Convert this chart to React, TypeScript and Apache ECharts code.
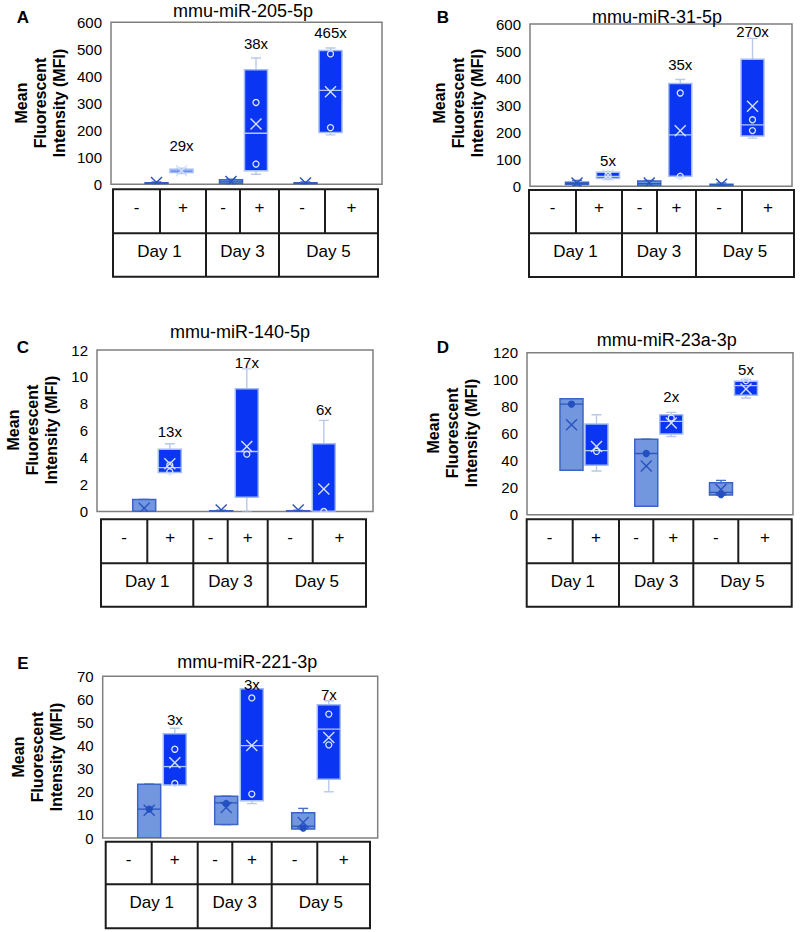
import React, { useEffect, useRef } from "react";
import * as echarts from "echarts";

// ---- data -------------------------------------------------------------
const days = ["Day 1", "Day 3", "Day 5"];
const treatments = ["-", "+"];
const panelLetters = ["A", "B", "C", "D", "E"];
const panelTitles = ["mmu-miR-205-5p", "mmu-miR-31-5p", "mmu-miR-140-5p", "mmu-miR-23a-3p", "mmu-miR-221-3p"];
const yMax = [600, 600, 12, 120, 70];
const yStep = [100, 100, 2, 20, 10];

// box statistics per box: [min, q1, median, q3, max, mean]
// box order: Day1 -, Day1 +, Day3 -, Day3 +, Day5 -, Day5 +
const mir205Stats = [
  [1, 2, 4, 6, 9, 7],
  [40, 44, 50, 56, 60, 50],
  [0, 2, 9, 17, 19, 10],
  [37, 50, 189, 424, 468, 223],
  [0, 1, 3, 6, 9, 5],
  [183, 192, 348, 496, 505, 343],
];
const mir205Points = [[], [], [], [303, 75], [], [483, 210]];
const mir205Fold = ["29x", "38x", "465x"];
const mir205FoldY = [142, 521, 562];

const mir31Stats = [
  [3, 7, 10, 15, 22, 12],
  [25, 30, 37, 52, 55, 42],
  [2, 4, 10, 20, 22, 12],
  [35, 37, 190, 380, 395, 205],
  [0, 2, 5, 8, 12, 8],
  [178, 186, 227, 470, 547, 296],
];
const mir31Points = [[], [41], [], [345, 37], [], [246, 206]];
const mir31Fold = ["5x", "35x", "270x"];
const mir31FoldY = [97, 451, 574];

const mir140Stats = [
  [0, 0, 0, 0.9, 0.9, 0.25],
  [2.89, 2.89, 3.26, 4.63, 5.03, 3.55],
  [0, 0, 0, 0.05, 0.1, 0.12],
  [0, 1.05, 4.46, 9.12, 10.6, 4.83],
  [0, 0, 0, 0.05, 0.1, 0.12],
  [0, 0, 0, 5.03, 6.77, 1.67],
];
const mir140Points = [[], [3.45, 2.95], [], [4.26], [], [0]];
const mir140Fold = ["13x", "17x", "6x"];
const mir140FoldY = [5.95, 11.06, 7.6];

const mir23aStats = [
  [33, 33, 82, 86, 86, 66.7],
  [32.5, 36.7, 47.6, 67.2, 74.1, 50.6],
  [6.4, 6.4, 45.4, 56, 56, 36.2],
  [58, 59.8, 69.2, 74.1, 75.9, 68],
  [14.6, 14.6, 16.6, 23.8, 25.5, 18.8],
  [86.5, 88.5, 95.7, 98.9, 100.2, 93.2],
];
const mir23aPoints = [[82], [47], [45.4], [71.7], [15], [99.4]];
const mir23aFold = ["", "2x", "5x"];
const mir23aFoldY = [0, 87.3, 108];

const mir221Stats = [
  [0, 0, 12.5, 23.3, 23.3, 12],
  [22.9, 22.9, 30.9, 45.1, 47.5, 32.6],
  [5.8, 5.8, 15.2, 18.1, 18.1, 13.2],
  [14.9, 16.1, 40, 64.6, 64.6, 40],
  [3.9, 3.9, 5.1, 10.9, 12.8, 6.7],
  [20, 25.4, 47.1, 57.7, 59.4, 43.5],
];
const mir221Points = [[12.5], [38.4, 23.6], [14.9], [60.6, 19], [4.3], [53.6, 40.3]];
const mir221Fold = ["3x", "3x", "7x"];
const mir221FoldY = [51.2, 66.4, 62];

const allStats = [mir205Stats, mir31Stats, mir140Stats, mir23aStats, mir221Stats];
const allPoints = [mir205Points, mir31Points, mir140Points, mir23aPoints, mir221Points];
const allFold = [mir205Fold, mir31Fold, mir140Fold, mir23aFold, mir221Fold];
const allFoldY = [mir205FoldY, mir31FoldY, mir140FoldY, mir23aFoldY, mir221FoldY];

// ---- layout -----------------------------------------------------------
const layout = [
  {
    grid: { left: 111, top: 22.3, width: 271, height: 162 },
    day1X: 169, step: 74.5, off: 12.5,
    letter: [23, 17], title: [243, 10.5], yTitle: [40, 103],
    table: { xs: [113, 160, 206, 240, 279, 325, 378], ys: [189.3, 233.3, 276.7] },
  },
  {
    grid: { left: 530, top: 24, width: 262, height: 162.3 },
    day1X: 592.5, step: 72.25, off: 15.5,
    letter: [443, 17], title: [657, 16.5], yTitle: [458, 103],
    table: { xs: [529, 576, 622, 657, 696, 742, 794], ys: [190, 233.3, 277] },
  },
  {
    grid: { left: 97, top: 350, width: 276, height: 161.5 },
    day1X: 157, step: 77, off: 12.8,
    letter: [23, 347], title: [240, 331.7], yTitle: [32, 430],
    table: { xs: [101, 147.3, 193.3, 227.7, 267.7, 312.7, 366], ys: [519.3, 563.3, 606.7] },
  },
  {
    grid: { left: 527, top: 352.8, width: 266, height: 162 },
    day1X: 584, step: 74.75, off: 12.5,
    letter: [443, 347], title: [666.7, 340], yTitle: [452, 433],
    table: { xs: [526.7, 572.7, 619, 653.3, 693.3, 738.3, 791.7], ys: [519.3, 563.3, 606.7] },
  },
  {
    grid: { left: 102.7, top: 676.2, width: 275, height: 161.8 },
    day1X: 162, step: 77, off: 12.8,
    letter: [23, 663], title: [247.3, 661.7], yTitle: [37, 757],
    table: { xs: [105.7, 151.7, 197.7, 232.3, 271.7, 317.3, 370], ys: [841.7, 884.3, 928.3] },
  },
];

const FONT = "'Liberation Sans', Arial, Helvetica, sans-serif";
const BOX_W = 23;

// styles for the untreated (-) and treated (+) boxes
const STYLE = [
  { fill: "#7397de", stroke: "#3a64c6", whisker: "#4b70c9", median: "#2c57c0", mean: "#2953bf", pFill: "#2450c0", pStroke: "#2450c0" },
  { fill: "#0a35f2", stroke: "#a3bcf2", whisker: "#b9c9ea", median: "#b3c8f5", mean: "#d4e0fa", pFill: "none", pStroke: "#dce6fb" },
];

function seg(x1: number, y1: number, x2: number, y2: number, stroke: string, lineWidth = 1.4) {
  return { type: "line", shape: { x1, y1, x2, y2 }, style: { stroke, lineWidth } };
}

function buildOption() {
  const grids: any[] = [];
  const xAxes: any[] = [];
  const yAxes: any[] = [];
  const series: any[] = [];
  const graphics: any[] = [];

  layout.forEach((L, p) => {
    const xMin = 1 - (L.day1X - L.grid.left) / L.step;
    const xMax = xMin + L.grid.width / L.step;
    grids.push({
      ...L.grid,
      show: true,
      backgroundColor: "#fff",
      borderColor: "#7f7f7f",
      borderWidth: 1.5,
      containLabel: false,
      outerBoundsMode: "none",
    });
    xAxes.push({ type: "value", gridIndex: p, min: xMin, max: xMax, show: false });
    yAxes.push({
      type: "value",
      gridIndex: p,
      min: 0,
      max: yMax[p],
      interval: yStep[p],
      axisLine: { show: false },
      axisTick: { show: false },
      splitLine: { show: false },
      axisLabel: { fontSize: 15, color: "#000", margin: 9, fontFamily: FONT },
    });

    const boxData = allStats[p].map((s, i) => [Math.floor(i / 2) + 1, i % 2, ...s]);
    series.push({
      type: "custom",
      xAxisIndex: p,
      yAxisIndex: p,
      clip: true,
      silent: true,
      encode: { x: 0, y: [2, 3, 4, 5, 6] },
      data: boxData,
      renderItem: (params: any, api: any) => {
        const day = api.value(0);
        const g = api.value(1);
        const base = api.coord([day, 0]);
        const cx = base[0] + (g === 0 ? -L.off : L.off);
        const py = (v: number) => api.coord([day, v])[1];
        const mn = api.value(2), q1 = api.value(3), md = api.value(4), q3 = api.value(5), mx = api.value(6), mean = api.value(7);
        const s = STYLE[g];
        const hw = BOX_W / 2, cap = 5, xs = 5.5;
        const my = py(mean);
        return {
          type: "group",
          children: [
            seg(cx, py(q3), cx, py(mx), s.whisker),
            seg(cx - cap, py(mx), cx + cap, py(mx), s.whisker),
            seg(cx, py(q1), cx, py(mn), s.whisker),
            seg(cx - cap, py(mn), cx + cap, py(mn), s.whisker),
            {
              type: "rect",
              shape: { x: cx - hw, y: py(q3), width: BOX_W, height: Math.max(py(q1) - py(q3), 0.5) },
              style: { fill: s.fill, stroke: s.stroke, lineWidth: 1.5 },
            },
            seg(cx - hw, py(md), cx + hw, py(md), s.median, 1.3),
            seg(cx - xs, my - xs, cx + xs, my + xs, s.mean, 1.4),
            seg(cx - xs, my + xs, cx + xs, my - xs, s.mean, 1.4),
          ],
        };
      },
    });

    const pointData: number[][] = [];
    allPoints[p].forEach((vals, i) => vals.forEach((v) => pointData.push([Math.floor(i / 2) + 1, i % 2, v])));
    series.push({
      type: "custom",
      xAxisIndex: p,
      yAxisIndex: p,
      clip: true,
      silent: true,
      encode: { x: 0, y: 2 },
      data: pointData,
      renderItem: (params: any, api: any) => {
        const day = api.value(0);
        const g = api.value(1);
        const c = api.coord([day, api.value(2)]);
        const s = STYLE[g];
        return {
          type: "circle",
          shape: { cx: c[0] + (g === 0 ? -L.off : L.off), cy: c[1], r: 3 },
          style: { fill: s.pFill, stroke: s.pStroke, lineWidth: 1.3 },
        };
      },
    });

    const foldTexts = allFold[p];
    series.push({
      type: "custom",
      xAxisIndex: p,
      yAxisIndex: p,
      clip: false,
      silent: true,
      encode: { x: 0, y: 1 },
      data: allFoldY[p].map((v, k) => [k + 1, v]),
      renderItem: (params: any, api: any) => {
        const c = api.coord([api.value(0), api.value(1)]);
        return {
          type: "text",
          x: c[0] + L.off,
          y: c[1],
          style: {
            text: foldTexts[params.dataIndex],
            fontSize: 15,
            fontFamily: FONT,
            fill: "#000",
            align: "center",
            verticalAlign: "middle",
            textAlign: "center",
            textVerticalAlign: "middle",
          },
        };
      },
    });

    // panel letter, title and y-axis title
    graphics.push({
      type: "text",
      x: L.letter[0],
      y: L.letter[1],
      style: { text: panelLetters[p], fontSize: 17, fontWeight: "bold", fontFamily: FONT, fill: "#000", align: "center", verticalAlign: "middle", textAlign: "center", textVerticalAlign: "middle" },
    });
    graphics.push({
      type: "text",
      x: L.title[0],
      y: L.title[1],
      style: { text: panelTitles[p], fontSize: 18, fontFamily: FONT, fill: "#000", align: "center", verticalAlign: "middle", textAlign: "center", textVerticalAlign: "middle" },
    });
    graphics.push({
      type: "text",
      x: L.yTitle[0],
      y: L.yTitle[1],
      rotation: Math.PI / 2,
      style: {
        text: "Mean\nFluorescent\nIntensity (MFI)",
        fontSize: 16,
        fontWeight: "bold",
        lineHeight: 19,
        fontFamily: FONT,
        fill: "#000",
        align: "center",
        verticalAlign: "middle",
        textAlign: "center",
        textVerticalAlign: "middle",
      },
    });

    // treatment / day table under each panel
    const { xs, ys } = L.table;
    const tStroke = "#1c1c1c";
    const tw = 2;
    graphics.push({
      type: "rect",
      shape: { x: xs[0], y: ys[0], width: xs[6] - xs[0], height: ys[2] - ys[0] },
      style: { fill: "none", stroke: tStroke, lineWidth: tw },
    });
    graphics.push({ type: "line", shape: { x1: xs[0], y1: ys[1], x2: xs[6], y2: ys[1] }, style: { stroke: tStroke, lineWidth: tw } });
    for (let k = 1; k <= 5; k++) {
      graphics.push({ type: "line", shape: { x1: xs[k], y1: ys[0], x2: xs[k], y2: ys[1] }, style: { stroke: tStroke, lineWidth: tw } });
    }
    [2, 4].forEach((k) =>
      graphics.push({ type: "line", shape: { x1: xs[k], y1: ys[1], x2: xs[k], y2: ys[2] }, style: { stroke: tStroke, lineWidth: tw } })
    );
    for (let k = 0; k < 6; k++) {
      graphics.push({
        type: "text",
        x: (xs[k] + xs[k + 1]) / 2,
        y: (ys[0] + ys[1]) / 2 - 4,
        style: { text: treatments[k % 2], fontSize: 17, fontFamily: FONT, fill: "#000", align: "center", verticalAlign: "middle", textAlign: "center", textVerticalAlign: "middle" },
      });
    }
    for (let d = 0; d < 3; d++) {
      graphics.push({
        type: "text",
        x: (xs[d * 2] + xs[d * 2 + 2]) / 2,
        y: (ys[1] + ys[2]) / 2 - 4,
        style: { text: days[d], fontSize: 17, fontFamily: FONT, fill: "#000", align: "center", verticalAlign: "middle", textAlign: "center", textVerticalAlign: "middle" },
      });
    }
  });

  return {
    animation: false,
    backgroundColor: "#fff",
    textStyle: { fontFamily: FONT },
    grid: grids,
    xAxis: xAxes,
    yAxis: yAxes,
    series,
    graphic: graphics,
  };
}

export default function App() {
  const ref = useRef<HTMLDivElement | null>(null);
  useEffect(() => {
    document.body.style.margin = "0";
    if (!ref.current) return;
    const chart = echarts.init(ref.current, null, { renderer: "svg" });
    chart.setOption(buildOption() as any);
    return () => chart.dispose();
  }, []);
  return <div ref={ref} style={{ width: 800, height: 932 }} />;
}
